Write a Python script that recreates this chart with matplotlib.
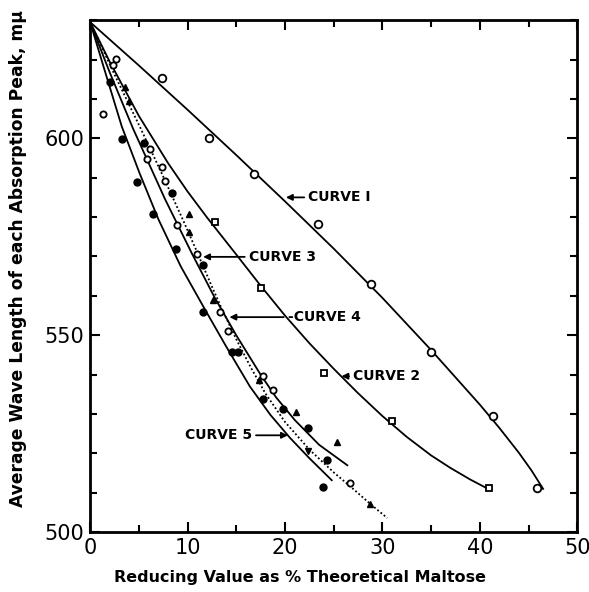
import matplotlib
matplotlib.use('Agg')
from matplotlib import pyplot as plt
from matplotlib.ticker import MultipleLocator

# ---- data ----
# curve 1 (open circles, solid)
c1_line_x = [0, 5, 10, 15, 20, 25, 30, 35, 40, 42, 44, 45.3, 46.5]
c1_line_y = [629.5, 618.5, 607.25, 595.75, 584.0, 572.0, 559.5, 546.25, 532.4, 526.5, 520.2, 515.7, 511.0]
c1_pts_x = [7.4, 12.2, 16.8, 23.4, 28.85, 35.0, 41.4, 45.9]
c1_pts_y = [615.2, 600.0, 590.9, 578.2, 562.9, 545.8, 529.5, 511.2]

# curve 2 (small squares, solid)
c2_line_x = [0, 2, 5, 8, 10, 12, 15, 17.5, 20, 22.5, 25, 27.5, 30, 32.5, 35, 37, 39, 41]
c2_line_y = [629.5, 619.5, 605.7, 593.7, 586.5, 579.9, 570.5, 562.6, 555.0, 548.0, 541.5,
             535.3, 529.5, 524.2, 519.5, 516.3, 513.4, 510.8]
c2_pts_x = [12.8, 17.5, 24.0, 31.0, 40.9]
c2_pts_y = [578.8, 561.9, 540.4, 528.3, 511.1]

# curve 3 (dotted)
c3_line_x = [0, 2.5, 5.13, 7.5, 9.58, 11, 12.3, 13.5, 15, 16.5, 18, 20, 22.5, 25, 27, 28.7, 30.5]
c3_line_y = [629.5, 616.2, 602.8, 590.3, 579.0, 571.0, 563.5, 556.8, 549.0, 541.8, 535.2, 528.0,
             521.0, 515.2, 511.0, 507.3, 503.6]

# curve 4 (solid, right of bundle)
c4_line_x = [0, 2, 4.4, 7.7, 10.5, 12.8, 15, 17.5, 19.1, 21, 23.5, 26.4]
c4_line_y = [629.5, 616.8, 602.5, 584.5, 570.5, 559.5, 550, 540, 534.2, 528.5, 522.2, 517]

# curve 5 (solid, left of bundle)
c5_line_x = [0, 1.5, 3.25, 5.1, 7.0, 9.3, 11.8, 14, 16.4, 18.5, 20.5, 22.5, 24.8]
c5_line_y = [629.5, 617.2, 603, 591, 579.5, 567.5, 556.5, 547, 537, 529.8, 524.0, 518.8, 513.2]

# bundle markers
filled_x = [2.05, 3.25, 4.8, 5.5, 6.5, 8.45, 8.8, 11.6, 11.6, 14.55, 15.2, 17.7, 19.8, 22.4, 24.3, 23.9]
filled_y = [614.3, 599.9, 588.8, 598.9, 580.9, 586, 572, 567.8, 555.9, 545.8, 545.8, 533.7, 531.4, 526.5, 518.4, 511.5]
open_x = [1.37, 2.4, 2.7, 6.1, 5.8, 7.4, 7.7, 8.9, 10.95, 13.35, 14.2, 17.7, 18.8, 26.7]
open_y = [606.1, 618.5, 620.2, 597.4, 594.8, 592.7, 589.1, 578.1, 570.7, 555.9, 551.1, 539.6, 536.0, 512.6]
tri_x = [3.6, 4.0, 10.1, 10.2, 12.6, 17.3, 21.1, 25.3, 28.7]
tri_y = [613, 609.4, 580.9, 576.1, 559, 538.6, 530.5, 522.8, 507.1]
tri_down_x = [22.4]
tri_down_y = [520.6]

# labels: (text, arrow tip x, y, text x, alignment)
labels = [
    ('CURVE I', 20.1, 585, 22.4, 'left'),
    ('CURVE 2', 25.8, 539.6, 27.0, 'left'),
    ('CURVE 3', 11.6, 569.9, 16.3, 'left'),
    ('-CURVE 4', 14.3, 554.6, 20.3, 'left'),
    ('CURVE 5', 20.3, 524.6, 16.6, 'right'),
]

plt.rcParams['font.family'] = ['DejaVu Sans']
fig = plt.figure(figsize=(5.89, 5.92), dpi=100)
ax = fig.add_axes([0.153, 0.101, 0.827, 0.865])

k = 'black'
ax.plot(c1_line_x, c1_line_y, color=k, lw=1.3)
ax.plot(c2_line_x, c2_line_y, color=k, lw=1.3)
ax.plot(c3_line_x, c3_line_y, color=k, lw=1.3, ls=(0, (1, 1.3)))
ax.plot(c4_line_x, c4_line_y, color=k, lw=1.3)
ax.plot(c5_line_x, c5_line_y, color=k, lw=1.3)

ax.plot(c1_pts_x, c1_pts_y, 'o', ms=5.5, mfc='white', mec=k, mew=1.3)
ax.plot(c2_pts_x, c2_pts_y, 's', ms=4, mfc='white', mec=k, mew=1.3)
ax.plot(filled_x, filled_y, 'o', ms=5, color=k)
ax.plot(open_x, open_y, 'o', ms=4.5, mfc='white', mec=k, mew=1.3)
ax.plot(tri_x, tri_y, '^', ms=4.5, color=k)
ax.plot(tri_down_x, tri_down_y, 'v', ms=4.5, color=k)

for txt, ax_x, yy, tx, ha in labels:
    ax.annotate(txt, xy=(ax_x, yy), xytext=(tx, yy), ha=ha, va='center',
                fontsize=10, fontweight='bold',
                arrowprops=dict(arrowstyle='-|>', color=k, lw=1.3,
                                mutation_scale=9, shrinkA=1, shrinkB=0))

ax.set_xlim(0, 50)
ax.set_ylim(500, 630)
ax.xaxis.set_major_locator(MultipleLocator(10))
ax.xaxis.set_minor_locator(MultipleLocator(5))
ax.yaxis.set_major_locator(MultipleLocator(50))
ax.yaxis.set_minor_locator(MultipleLocator(10))
ax.tick_params(which='both', direction='in', top=True, right=True, width=1.5,
               labelsize=15, pad=4)
ax.tick_params(which='major', length=7)
ax.tick_params(which='minor', length=5)
for s in ax.spines.values():
    s.set_linewidth(2)

ax.set_xlabel('Reducing Value as % Theoretical Maltose', fontsize=11.5,
              fontweight='bold')
ax.set_ylabel('Average Wave Length of each Absorption Peak, m\u03bc', fontsize=12.3,
              fontweight='bold')
ax.xaxis.set_label_coords(0.431, -0.074)
ax.yaxis.set_label_coords(-0.13, 0.535)

fig.savefig('out.png', dpi=100)
